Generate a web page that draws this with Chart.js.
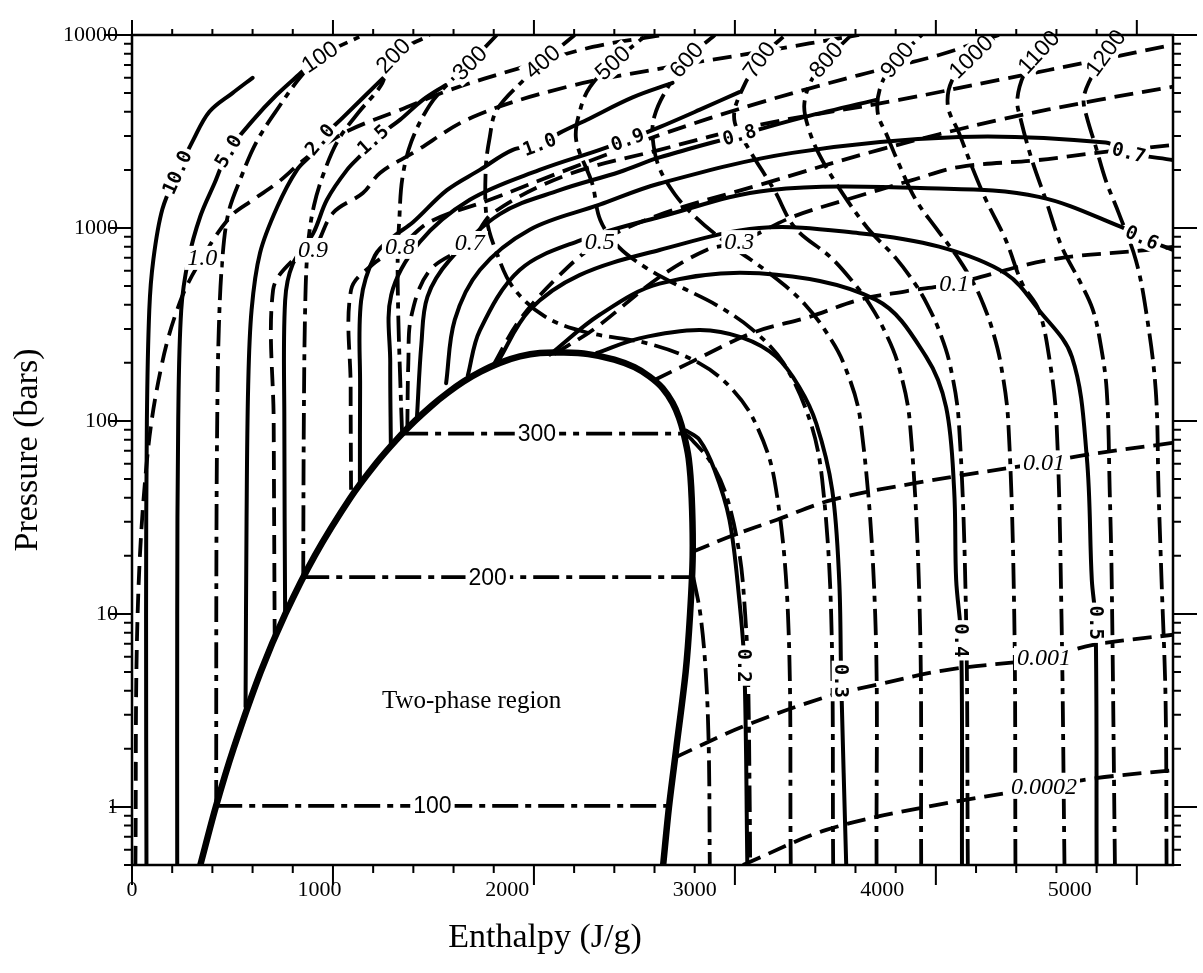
<!DOCTYPE html>
<html>
<head>
<meta charset="utf-8">
<script src="https://cdn.jsdelivr.net/npm/chart.js@4.4.1/dist/chart.umd.min.js"></script>
<style>
  html, body { margin: 0; padding: 0; background: #fff; }
</style>
</head>
<body>
<canvas id="graph_ph" width="1203" height="973"></canvas>
<script>
// ---------- axis ticks ----------
const enthalpyTicks = [0, 1000, 2000, 3000, 4000, 5000];
const pressureTicks = [1, 10, 100, 1000, 10000];

// ---------- saturation curve [h (J/g), P (bar)] ----------
const satCurve = [[340,0.5],[417,1],[505,2],[640,5],[763,10],[909,20],[1087,40],[1213,60],[1317,80],[1408,100],[1491,120],[1571,140],[1650,160],[1735,180],[1830,200],[1930,216],[2030,225],[2150,226],[2270,222],[2400,208],[2500,190],[2575,170],[2640,148],[2690,124],[2722,104],[2745,86],[2770,64],[2785,40],[2790,20],[2777,10],[2755,5],[2708,2],[2672,1],[2643,0.5]];

// ---------- isotherms (deg C) ----------
const t100 = [[419,1.01],[420,20],[424,100],[432,300],[450,700],[480,1200],[540,1800],[620,2800],[735,4300],[835,6000],[935,7700],[1150,10000]];
const t100Flat = [[419,1.013],[1495,1.013],[2676,1.013]];
const t200 = [[852,15.5],[855,100],[862,400],[875,800],[905,1300],[960,2000],[1030,2900],[1130,4000],[1240,5500],[1300,7800],[1480,10000]];
const t200Flat = [[852,15.5],[1770,15.5],[2793,15.5]];
const t200Vap = [[2793,15.5],[2828,10],[2855,5],[2870,2],[2875,0.5]];
const t300 = [[1344,86],[1335,160],[1325,350],[1322,700],[1330,1100],[1345,1800],[1390,2800],[1482,4340],[1581,5710],[1681,7160],[1815,10000]];
const t300Flat = [[1344,85.9],[2015,85.9],[2749,85.9]];
const t300Vap = [[2749,86],[2786,80],[2885,60],[2961,40],[3024,20],[3051,10],[3065,5],[3074,1],[3076,0.5]];
const t400 = [[3278,0.5],[3264,10],[3196,50],[3097,100],[2976,150],[2820,200],[2580,250],[2250,290],[2050,350],[1895,494],[1815,742],[1766,1100],[1760,2000],[1780,2950],[1815,4090],[1964,6060],[2043,7250],[2203,10000]];
const t500 = [[3489,0.5],[3479,10],[3434,50],[3374,100],[3241,200],[3083,300],[2906,400],[2722,500],[2560,620],[2420,800],[2330,1100],[2290,1700],[2210,2860],[2230,4090],[2280,5400],[2392,7160],[2560,10000]];
const t600 = [[3705,0.5],[3698,10],[3625,100],[3540,200],[3444,300],[3350,400],[3252,500],[3110,650],[2950,850],[2800,1150],[2700,1500],[2620,2100],[2590,3000],[2600,3800],[2650,5000],[2759,7420],[2900,10000]];
const t700 = [[3927,0.5],[3920,10],[3870,100],[3810,200],[3740,300],[3672,400],[3604,500],[3480,700],[3300,1000],[3196,1570],[3072,2540],[3000,3500],[3010,4500],[3121,7420],[3250,10000]];
const t800 = [[4159,0.5],[4150,10],[4114,100],[4068,200],[4013,300],[3958,400],[3904,500],[3800,700],[3660,1000],[3520,1600],[3420,2400],[3370,3200],[3345,4300],[3380,5800],[3454,7420],[3580,10000]];
const t900 = [[4396,0.5],[4390,10],[4360,100],[4322,200],[4280,300],[4237,400],[4195,500],[4110,700],[4000,1000],[3900,1400],[3820,2100],[3760,2960],[3710,4000],[3730,5600],[3807,7420],[3930,10000]];
const t1000 = [[4640,0.5],[4625,10],[4600,100],[4565,210],[4512,376],[4430,514],[4348,866],[4249,1400],[4180,2070],[4115,3110],[4060,4270],[4080,5800],[4175,7690],[4314,10000]];
const t1100 = [[4891,0.5],[4875,15],[4865,44],[4850,145],[4816,263],[4780,380],[4720,520],[4627,795],[4547,1400],[4478,2250],[4423,3630],[4405,4610],[4440,6300],[4512,8160],[4620,10000]];
const t1200 = [[5148,0.5],[5143,3.6],[5123,15],[5108,44],[5094,145],[5045,376],[4995,683],[4910,1195],[4845,1770],[4796,2630],[4751,3760],[4735,4610],[4760,5640],[4845,8070],[4935,10000]];

// ---------- isochores (g/cm3) ----------
const rho1 = [[17,0.5],[28,10],[76,65],[150,200],[245,430],[350,700],[488,1140],[602,1400],[722,1710],[836,2170],[920,2540],[1084,3220],[1333,4090],[1581,5190],[1929,6740],[2292,8670],[2640,10000]];
const rho09 = [[710,7.5],[705,100],[702,477],[800,680],[901,769],[1000,1196],[1149,1518],[1234,1928],[1398,2448],[1696,3760],[2163,5380],[2675,6830],[3121,8170],[3618,10000]];
const rho08 = [[1090,44],[1088,150],[1090,477],[1200,650],[1333,798],[1482,1075],[1780,1400],[2163,2000],[2625,3030],[3121,4450],[3618,6200],[4016,7880],[4314,10000]];
const rho07 = [[1370,92],[1375,200],[1390,350],[1480,600],[1681,836],[1796,1196],[2163,1880],[2625,2540],[3121,3420],[3817,4610],[4314,5850],[4810,7420],[5180,8900]];
const rho05 = [[1800,196],[1929,334],[2128,570],[2327,845],[2625,1170],[3121,1670],[3718,2540],[4314,3630],[4810,4610],[5180,5400]];
const rho03 = [[2100,222],[2300,300],[2625,557],[2859,769],[3022,845],[3286,1140],[3554,1400],[3882,1770],[4115,2070],[4512,2250],[4810,2460],[5180,2690]];
const rho01 = [[2600,163],[2774,200],[3087,286],[3370,346],[3618,424],[3850,470],[4091,515],[4563,683],[5045,769],[5180,798]];
const rho001 = [[2784,20.9],[2998,25.7],[3206,30.7],[3484,39],[3902,47.7],[4538,61],[4746,66.7],[5180,77]];
const rho0001 = [[2700,1.8],[3037,2.6],[3455,3.72],[3703,4.29],[4051,5.12],[4538,5.9],[4776,6.9],[5180,7.8]];
const rho00002 = [[3040,0.5],[3455,0.76],[3952,1.0],[4538,1.27],[4796,1.41],[5180,1.55]];

// ---------- viscosity lines (1e-4 Pa s) ----------
const visc10 = [[72,0.5],[70,10],[74,100],[86,376],[106,683],[151,1250],[226,1940],[305,2860],[385,4000],[500,5000],[600,6000]];
const visc5 = [[225,0.5],[225,10],[230,100],[245,376],[280,683],[340,1150],[410,1700],[480,2500],[600,3600],[720,4900],[850,6500]];
const visc2 = [[565,3.3],[570,30],[578,150],[595,376],[637,742],[722,1280],[821,2000],[901,2450],[936,2860],[1050,3740],[1249,5980]];
const visc15 = [[762,10],[758,100],[762,420],[800,650],[901,935],[970,1400],[1070,2000],[1150,2450],[1200,2860],[1333,3630],[1447,4610],[1560,5500]];
const visc1 = [[1134,46.5],[1135,150],[1140,420],[1209,720],[1300,900],[1398,1070],[1567,1570],[1731,2000],[1895,2540],[2028,2700],[2128,3110],[2262,3630],[2491,4750],[2690,5650]];
const visc09 = [[1288,75],[1285,200],[1290,450],[1432,845],[1681,1400],[2028,2000],[2327,2540],[2466,2860],[2625,3330],[2823,4090],[3022,5060]];
const visc08 = [[1418,105],[1440,250],[1470,440],[1581,683],[1830,1180],[2128,1570],[2426,1950],[2625,2320],[3022,3030],[3320,3700],[3703,4610]];
const visc07 = [[1563,157],[1606,334],[1731,606],[1979,980],[2327,1320],[2625,1700],[3286,2450],[4115,2960],[4845,2770],[4960,2450],[5180,2250]];
const visc06 = [[1671,172],[1731,295],[1929,606],[2227,860],[2625,1140],[3171,1570],[4016,1600],[4512,1450],[4925,1010],[5025,890],[5180,770]];
const visc05 = [[1820,202],[1979,376],[2227,570],[2625,769],[3121,1000],[3618,940],[4016,800],[4348,580],[4512,376],[4677,215],[4751,65],[4776,15],[4795,9],[4800,0.5]];
const visc04 = [[2080,221],[2327,355],[2625,515],[3121,582],[3703,424],[3952,215],[4051,118],[4091,44],[4101,15],[4126,7.3],[4130,0.5]];
const visc03 = [[2313,225],[2525,268],[2823,296],[3037,270],[3206,215],[3320,150],[3405,97],[3484,44],[3519,15],[3529,4.5],[3554,0.5]];
const visc02 = [[2758,89],[2823,80],[2898,56],[2973,30.7],[3022,11.8],[3047,5.4],[3062,0.5]];

const isotherms = [t100, t200, t200Vap, t300, t300Vap, t400, t500, t600, t700, t800, t900, t1000, t1100, t1200];
const flats = [t100Flat, t200Flat, t300Flat];
const isochores = [rho1, rho09, rho08, rho07, rho05, rho03, rho01, rho001, rho0001, rho00002];
const viscLines = [visc10, visc5, visc2, visc15, visc1, visc09, visc08, visc07, visc06, visc05, visc04, visc03, visc02];

// labels: text, curve, point index, kind, angle (null = along the curve)
const curveLabels = [
    ['100', t100, 10, 'sans', null], ['200', t200, 9, 'sans', null], ['300', t300, 9, 'sans', null],
    ['400', t400, 16, 'sans', null], ['500', t500, 15, 'sans', null], ['600', t600, 15, 'sans', null],
    ['700', t700, 13, 'sans', null], ['800', t800, 14, 'sans', null], ['900', t900, 14, 'sans', null],
    ['1000', t1000, 12, 'sans', null], ['1100', t1100, 13, 'sans', null], ['1200', t1200, 13, 'sans', null],
    ['100', t100Flat, 1, 'sans', 0], ['200', t200Flat, 1, 'sans', 0], ['300', t300Flat, 1, 'sans', 0],
    ['1.0', rho1, 5, 'ital', 0], ['0.9', rho09, 4, 'ital', 0], ['0.8', rho08, 4, 'ital', 0],
    ['0.7', rho07, 4, 'ital', 0], ['0.5', rho05, 3, 'ital', 0], ['0.3', rho03, 4, 'ital', 0],
    ['0.1', rho01, 6, 'ital', 0], ['0.01', rho001, 5, 'ital', 0], ['0.001', rho0001, 5, 'ital', 0],
    ['0.0002', rho00002, 3, 'ital', 0],
    ['10.0', visc10, 6, 'bold', null], ['5.0', visc5, 7, 'bold', null], ['2.0', visc2, 8, 'bold', null],
    ['1.5', visc15, 8, 'bold', null], ['1.0', visc1, 9, 'bold', null], ['0.9', visc09, 7, 'bold', null],
    ['0.8', visc08, 8, 'bold', null], ['0.7', visc07, 9, 'bold', null], ['0.6', visc06, 9, 'bold', null],
    ['0.5', visc05, 12, 'bold', 90], ['0.4', visc04, 9, 'bold', 90], ['0.3', visc03, 9, 'bold', 90],
    ['0.2', visc02, 5, 'bold', 90]
];

const labelFonts = {
    sans: {font: '23px "Liberation Sans", Arial, sans-serif', size: 23},
    ital: {font: 'italic 24px "Liberation Serif", "Times New Roman", serif', size: 24},
    bold: {font: 'bold 19px "DejaVu Sans Mono", monospace', size: 19}
};

function toXY(points) {
    return points.map(p => ({x: p[0], y: p[1]}));
}

function serie(points, style) {
    const base = {data: toXY(points), showLine: true, pointRadius: 0, borderColor: '#000', fill: false, tension: 0.35, borderCapStyle: 'butt', xAxisID: 'x', yAxisID: 'y'};
    return Object.assign(base, style);
}

const dashDot = {borderWidth: 3.8, borderDash: [26, 7, 6, 7]};
const dashed = {borderWidth: 3.8, borderDash: [19, 9]};

const datasets = [
    ...isochores.map(c => serie(c, dashed)),
    ...isotherms.map(c => serie(c, dashDot)),
    ...flats.map(c => serie(c, Object.assign({tension: 0}, dashDot))),
    ...viscLines.map(c => serie(c, {borderWidth: 4, borderCapStyle: 'round'})),
    serie(satCurve, {borderWidth: 6.5, borderCapStyle: 'round', tension: 0.3})
];

const labelPlugin = {
    id: 'curveLabels',
    afterDatasetsDraw(chart) {
        const ctx = chart.ctx, xs = chart.scales.x, ys = chart.scales.y;
        const px = p => [xs.getPixelForValue(p[0]), ys.getPixelForValue(p[1])];
        curveLabels.forEach(([text, pts, i, kind, angle]) => {
            const [x, y] = px(pts[i]);
            let a = angle;
            if (a === null) {
                const p0 = px(pts[Math.max(i - 1, 0)]);
                const p1 = px(pts[Math.min(i + 1, pts.length - 1)]);
                a = Math.atan2(p1[1] - p0[1], p1[0] - p0[0]) * 180 / Math.PI;
                if (a > 90) a -= 180;
                if (a < -90) a += 180;
            }
            const f = labelFonts[kind];
            ctx.save();
            ctx.translate(x, y);
            ctx.rotate(a * Math.PI / 180);
            ctx.font = f.font;
            const w = ctx.measureText(text).width;
            ctx.fillStyle = '#fff';
            ctx.fillRect(-w / 2 - 3, -f.size * 0.5, w + 6, f.size);
            ctx.fillStyle = '#000';
            ctx.textAlign = 'center';
            ctx.textBaseline = 'middle';
            ctx.fillText(text, 0, 1);
            ctx.restore();
        });
        // region label
        ctx.save();
        ctx.font = '25px "Liberation Serif", "Times New Roman", serif';
        ctx.fillStyle = '#000';
        ctx.textAlign = 'center';
        ctx.textBaseline = 'middle';
        ctx.fillText('Two-phase region', xs.getPixelForValue(1690), ys.getPixelForValue(3.5));
        ctx.restore();
    }
};

const framePlugin = {
    id: 'frameTicks',
    afterDraw(chart) {
        const ctx = chart.ctx, a = chart.chartArea, xs = chart.scales.x, ys = chart.scales.y;
        ctx.save();
        ctx.strokeStyle = '#000';
        ctx.lineWidth = 2.5;
        ctx.strokeRect(a.left, a.top, a.right - a.left, a.bottom - a.top);
        ctx.lineWidth = 2;
        ctx.beginPath();
        ctx.moveTo(a.left - 28, a.top); ctx.lineTo(a.left, a.top);
        for (let h = 0; h <= 5000; h += 200) {
            const x = xs.getPixelForValue(h), major = h % 1000 === 0;
            ctx.moveTo(x, a.bottom); ctx.lineTo(x, a.bottom + (major ? 20 : 8));
            ctx.moveTo(x, a.top); ctx.lineTo(x, a.top - (major ? 15 : 6));
        }
        for (let d = 0.1; d <= 10000; d *= 10) {
            for (let m = 1; m <= 9; m++) {
                const v = Math.round(d * m * 10) / 10;
                if (v < 0.5 || v > 10000) continue;
                const y = ys.getPixelForValue(v), major = m === 1;
                ctx.moveTo(a.left, y); ctx.lineTo(a.left - (major ? 22 : 8), y);
                ctx.moveTo(a.right, y); ctx.lineTo(a.right + (major ? 24 : 8), y);
            }
        }
        ctx.stroke();
        // x axis title
        ctx.font = '34px "Liberation Serif", "Times New Roman", serif';
        ctx.fillStyle = '#000';
        ctx.textAlign = 'center';
        ctx.textBaseline = 'middle';
        ctx.fillText('Enthalpy (J/g)', 545, 938);
        ctx.restore();
    }
};

new Chart(document.getElementById('graph_ph'), {
    type: 'scatter',
    data: {datasets: datasets},
    options: {
        responsive: false,
        devicePixelRatio: 1,
        animation: false,
        events: [],
        layout: {padding: {left: 0, top: 35, right: 30, bottom: 0}},
        plugins: {legend: {display: false}, tooltip: {enabled: false}},
        scales: {
            x: {type: 'linear', min: 0, max: 5180, display: false},
            xl: {
                type: 'linear', position: 'bottom', axis: 'x', min: 0, max: 5550,
                grid: {display: false, drawTicks: false}, border: {display: false},
                afterBuildTicks: s => { s.ticks = enthalpyTicks.map(v => ({value: v})); },
                afterFit: s => { s.height = 108; },
                ticks: {padding: 12, color: '#000', font: {family: '"Liberation Serif", serif', size: 22}, maxRotation: 0, autoSkip: false, callback: v => String(v)}
            },
            y: {
                type: 'logarithmic', min: 0.5, max: 10000,
                grid: {display: false, drawTicks: false}, border: {display: false},
                afterBuildTicks: s => { s.ticks = pressureTicks.map(v => ({value: v})); },
                afterFit: s => { s.width = 132; },
                ticks: {padding: 14, color: '#000', font: {family: '"Liberation Serif", serif', size: 22}, autoSkip: false, callback: v => String(v)},
                title: {display: true, text: 'Pressure (bars)', color: '#000', padding: {top: 8}, font: {family: '"Liberation Serif", serif', size: 34}}
            }
        }
    },
    plugins: [labelPlugin, framePlugin]
});
</script>
</body>
</html>
